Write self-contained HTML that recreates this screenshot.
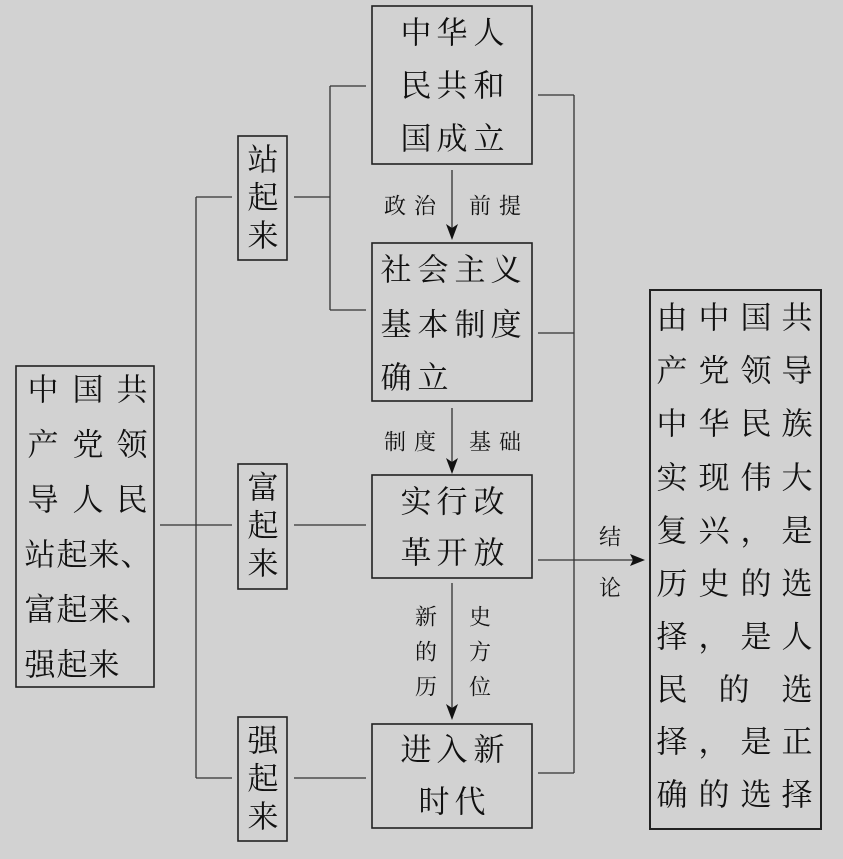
<!DOCTYPE html>
<html><head><meta charset="utf-8"><style>
html,body{margin:0;padding:0;background:#d2d2d2;}
svg{display:block}
text{font-family:"Liberation Serif","Noto Serif CJK SC",serif;fill:#111;dominant-baseline:central;text-anchor:middle;}
.m{font-size:31px}
.s{font-size:22px}
</style></head><body>
<svg width="843" height="859" xmlns="http://www.w3.org/2000/svg">
<rect width="843" height="859" fill="#d2d2d2"/>
<g fill="none" stroke="#222" stroke-width="1.6">
<rect x="16" y="366" width="138" height="321"/>
<rect x="238" y="136" width="49" height="124"/>
<rect x="238" y="464" width="49" height="125"/>
<rect x="238" y="717" width="49" height="124"/>
<rect x="372" y="6" width="160" height="158"/>
<rect x="372" y="243" width="160" height="158"/>
<rect x="372" y="475" width="160" height="103"/>
<rect x="372" y="724" width="160" height="104"/>
<rect x="650" y="290" width="171" height="539" stroke-width="2"/>
</g>
<g fill="none" stroke="#333" stroke-width="1.3">
<path d="M160 525H232M196 197V778M196 197H232M196 778H232"/>
<path d="M294 197H330M330 86V310M330 86H366M330 310H366"/>
<path d="M294 525H366M294 778H366"/>
<path d="M538 95H574M574 95V773M538 333H574M538 773H574"/>
<path d="M538 560H640"/>
<path d="M452 170V232M452 408V466M452 583V712"/>
</g>
<g fill="#111">
<path d="M645 560L630 554L633 560L630 566Z"/>
<path d="M452 240L446 224L452 228L458 224Z"/>
<path d="M452 474L446 458L452 462L458 458Z"/>
<path d="M452 720L446 704L452 708L458 704Z"/>
</g>
<g class="m">
<text x="43" y="390">中</text><text x="88" y="390">国</text><text x="132" y="390">共</text>
<text x="43" y="445">产</text><text x="88" y="445">党</text><text x="132" y="445">领</text>
<text x="43" y="500">导</text><text x="88" y="500">人</text><text x="132" y="500">民</text>
<text x="40" y="555">站</text><text x="72" y="555">起</text><text x="104" y="555">来</text><text x="136" y="555">、</text>
<text x="40" y="610">富</text><text x="72" y="610">起</text><text x="104" y="610">来</text><text x="136" y="610">、</text>
<text x="40" y="665">强</text><text x="72" y="665">起</text><text x="104" y="665">来</text>

<text x="263" y="160">站</text><text x="263" y="198">起</text><text x="263" y="236">来</text>
<text x="263" y="488">富</text><text x="263" y="526">起</text><text x="263" y="564">来</text>
<text x="263" y="741">强</text><text x="263" y="779">起</text><text x="263" y="817">来</text>

<text x="416" y="33">中</text><text x="452" y="33">华</text><text x="489" y="33">人</text>
<text x="416" y="86">民</text><text x="452" y="86">共</text><text x="489" y="86">和</text>
<text x="416" y="139">国</text><text x="452" y="139">成</text><text x="489" y="139">立</text>

<text x="396" y="270">社</text><text x="433" y="270">会</text><text x="470" y="270">主</text><text x="506" y="270">义</text>
<text x="396" y="325">基</text><text x="433" y="325">本</text><text x="470" y="325">制</text><text x="506" y="325">度</text>
<text x="396" y="378">确</text><text x="433" y="378">立</text>

<text x="416" y="502">实</text><text x="452" y="502">行</text><text x="489" y="502">改</text>
<text x="416" y="553">革</text><text x="452" y="553">开</text><text x="489" y="553">放</text>

<text x="416" y="750">进</text><text x="452" y="750">入</text><text x="489" y="750">新</text>
<text x="434" y="802">时</text><text x="470" y="802">代</text>

<text x="672" y="318">由</text><text x="714" y="318">中</text><text x="756" y="318">国</text><text x="797" y="318">共</text>
<text x="672" y="371">产</text><text x="714" y="371">党</text><text x="756" y="371">领</text><text x="797" y="371">导</text>
<text x="672" y="424">中</text><text x="714" y="424">华</text><text x="756" y="424">民</text><text x="797" y="424">族</text>
<text x="672" y="478">实</text><text x="714" y="478">现</text><text x="756" y="478">伟</text><text x="797" y="478">大</text>
<text x="672" y="531">复</text><text x="714" y="531">兴</text><text x="756" y="531">，</text><text x="797" y="531">是</text>
<text x="672" y="584">历</text><text x="714" y="584">史</text><text x="756" y="584">的</text><text x="797" y="584">选</text>
<text x="672" y="637">择</text><text x="714" y="637">，</text><text x="756" y="637">是</text><text x="797" y="637">人</text>
<text x="672" y="690">民</text><text x="734" y="690">的</text><text x="797" y="690">选</text>
<text x="672" y="742">择</text><text x="714" y="742">，</text><text x="756" y="742">是</text><text x="797" y="742">正</text>
<text x="672" y="795">确</text><text x="714" y="795">的</text><text x="756" y="795">选</text><text x="797" y="795">择</text>
</g>
<g class="s">
<text x="395" y="206">政</text><text x="425" y="206">治</text><text x="480" y="206">前</text><text x="510" y="206">提</text>
<text x="395" y="442">制</text><text x="425" y="442">度</text><text x="480" y="442">基</text><text x="510" y="442">础</text>
<text x="426" y="617">新</text><text x="426" y="652">的</text><text x="426" y="687">历</text>
<text x="480" y="617">史</text><text x="480" y="652">方</text><text x="480" y="687">位</text>
<text x="610" y="537">结</text><text x="610" y="588">论</text>
</g>
</svg>
</body></html>
